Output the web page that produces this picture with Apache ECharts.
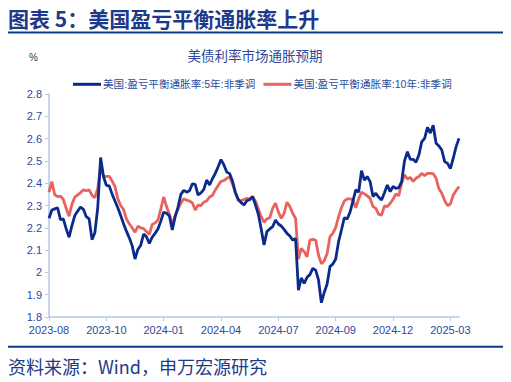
<!DOCTYPE html>
<html>
<head>
<meta charset="utf-8">
<script src="https://cdn.jsdelivr.net/npm/echarts@6/dist/echarts.min.js"></script>
<style>
html,body{margin:0;padding:0;background:#fff;}
#c{width:511px;height:382px;}
</style>
</head>
<body>
<div id="c"></div>
<script>
const tickLabels = ['2023-08','2023-10','2024-01','2024-04','2024-07','2024-09','2024-12','2025-03'];
const pointsPerTick = 20;

const be5y = [
2.243,2.28,2.285,2.29,2.237,2.24,2.195,2.158,2.21,2.255,
2.275,2.293,2.283,2.25,2.24,2.147,2.178,2.29,2.515,2.43,
2.39,2.388,2.352,2.32,2.29,2.255,2.218,2.185,2.155,2.12,
2.06,2.103,2.122,2.172,2.16,2.13,2.158,2.175,2.195,2.23,
2.27,2.265,2.253,2.19,2.25,2.293,2.35,2.368,2.36,2.366,
2.397,2.395,2.347,2.357,2.372,2.414,2.392,2.42,2.444,2.474,
2.506,2.482,2.45,2.443,2.41,2.358,2.328,2.313,2.302,2.321,
2.326,2.34,2.303,2.262,2.196,2.123,2.183,2.195,2.205,2.235,
2.217,2.208,2.193,2.175,2.163,2.145,2.152,1.92,1.975,1.951,
1.978,1.99,2.018,2.01,1.966,1.864,1.91,1.948,2.026,2.038,
2.06,2.138,2.19,2.245,2.24,2.27,2.32,2.37,2.36,2.456,
2.414,2.43,2.407,2.34,2.355,2.337,2.325,2.357,2.392,2.362,
2.385,2.377,2.38,2.407,2.5,2.541,2.507,2.507,2.494,2.526,
2.586,2.601,2.65,2.625,2.66,2.579,2.567,2.549,2.497,2.489,
2.465,2.512,2.564,2.601
];

const be10y = [
2.36,2.407,2.348,2.34,2.342,2.327,2.287,2.252,2.306,2.338,
2.347,2.358,2.37,2.366,2.37,2.345,2.335,2.377,2.475,2.431,
2.431,2.431,2.41,2.385,2.33,2.3,2.282,2.24,2.218,2.2,
2.18,2.207,2.2,2.196,2.183,2.17,2.215,2.222,2.235,2.284,
2.338,2.295,2.261,2.213,2.254,2.282,2.31,2.33,2.324,2.32,
2.312,2.28,2.302,2.3,2.315,2.321,2.338,2.345,2.37,2.39,
2.408,2.412,2.422,2.428,2.396,2.358,2.322,2.321,2.327,2.332,
2.33,2.34,2.32,2.285,2.25,2.225,2.24,2.245,2.287,2.31,
2.272,2.242,2.265,2.315,2.295,2.265,2.242,2.06,2.108,2.093,
2.07,2.145,2.148,2.145,2.078,2.038,2.052,2.085,2.16,2.175,
2.202,2.25,2.29,2.32,2.33,2.33,2.325,2.29,2.33,2.36,
2.352,2.343,2.332,2.295,2.287,2.26,2.257,2.298,2.295,2.31,
2.328,2.352,2.344,2.4,2.438,2.419,2.426,2.408,2.422,2.43,
2.444,2.434,2.444,2.444,2.443,2.422,2.375,2.355,2.322,2.3,
2.307,2.347,2.367,2.385
];

const seriesNames = ['美国:盈亏平衡通胀率:5年:非季调','美国:盈亏平衡通胀率:10年:非季调'];
const chartTitle = '美债利率市场通胀预期';
const heading = '图表 5：美国盈亏平衡通胀率上升';
const source = '资料来源：Wind，申万宏源研究';

const categories = be5y.map((_, i) => (i % pointsPerTick === 0 ? tickLabels[i / pointsPerTick] : '') );

const NAVY = '#0A2A8C';
const RED = '#E8625F';
const TXT = '#2B4A9B';
const AX = '#B7C8E8';
const FONT = '"Liberation Sans", "Noto Sans CJK SC", sans-serif';

const chart = echarts.init(document.getElementById('c'), null, {renderer: 'svg'});
chart.setOption({
  animation: false,
  backgroundColor: '#fff',
  textStyle: {fontFamily: FONT},
  title: {
    text: chartTitle,
    left: 250, top: 45, textAlign: 'center',
    textStyle: {fontSize: 13.5, fontWeight: 'normal', color: TXT, fontFamily: FONT}
  },
  legend: {
    left: 68, top: 74,
    icon: 'rect', itemWidth: 28, itemHeight: 3, itemGap: 8,
    textStyle: {fontSize: 10.6, color: TXT, fontFamily: FONT, padding: [0,0,0,-3]},
    data: seriesNames
  },
  grid: {left: 49, right: 52, top: 94, bottom: 65, containLabel: false},
  xAxis: {
    type: 'category',
    data: categories,
    boundaryGap: false,
    axisLine: {lineStyle: {color: AX, width: 1.5}},
    axisTick: {show: true, length: 4, interval: (i) => i % pointsPerTick === 0, lineStyle: {color: AX}},
    axisLabel: {interval: (i) => i % pointsPerTick === 0, color: TXT, fontSize: 11, margin: 7, fontFamily: FONT},
    splitLine: {show: false}
  },
  yAxis: {
    type: 'value',
    min: 1.8, max: 2.8, interval: 0.1,
    axisLine: {show: true, lineStyle: {color: AX, width: 1.5}},
    axisTick: {show: true, length: 4, lineStyle: {color: AX}},
    axisLabel: {color: TXT, fontSize: 11, margin: 7, fontFamily: FONT},
    splitLine: {show: false}
  },
  series: [
    {name: seriesNames[0], type: 'line', data: be5y, symbol: 'none', lineStyle: {color: NAVY, width: 2.8}, itemStyle: {color: NAVY}, z: 3},
    {name: seriesNames[1], type: 'line', data: be10y, symbol: 'none', lineStyle: {color: RED, width: 2.8}, itemStyle: {color: RED}, z: 2}
  ],
  graphic: [
    {type: 'text', left: 8, top: 7, style: {text: heading, font: 'bold 21px "Noto Sans CJK SC", sans-serif', fill: '#1D3A8A'}},
    {type: 'rect', shape: {x: 8, y: 31.5, width: 495, height: 2}, style: {fill: '#0E3A8E'}},
    {type: 'text', left: 29, top: 52, style: {text: '%', font: '10px "Liberation Sans", sans-serif', fill: '#333'}},
    {type: 'rect', shape: {x: 8, y: 345.7, width: 495, height: 2}, style: {fill: '#0E3A8E'}},
    {type: 'text', left: 8, top: 357, style: {text: source, font: '18px "Noto Sans CJK SC", sans-serif', fill: '#1D3A8A'}}
  ]
});
</script>
</body>
</html>
